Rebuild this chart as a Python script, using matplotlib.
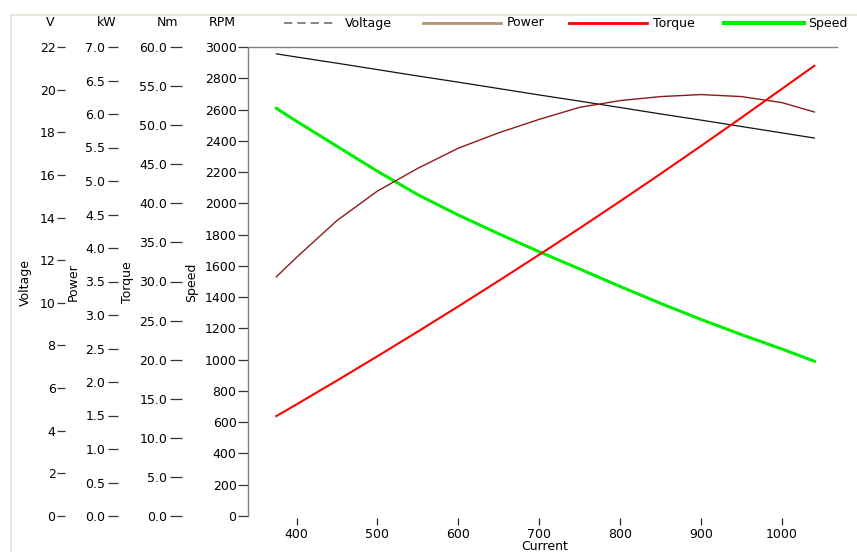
import matplotlib
matplotlib.use("Agg")
import matplotlib.pyplot as plt
from matplotlib.lines import Line2D
from matplotlib.ticker import FormatStrFormatter

# values
current = [375, 400, 450, 500, 550, 600, 650, 700, 750, 800, 850, 900, 950, 1000, 1040]
voltage = [21.68, 21.53, 21.24, 20.94, 20.64, 20.35, 20.05, 19.75, 19.46, 19.16, 18.86, 18.57, 18.27, 17.97, 17.73]
power = [3.57, 3.86, 4.41, 4.85, 5.19, 5.49, 5.72, 5.92, 6.10, 6.20, 6.26, 6.29, 6.26, 6.17, 6.03]
torque = [12.78, 14.28, 17.33, 20.44, 23.60, 26.82, 30.10, 33.43, 36.82, 40.27, 43.78, 47.35, 50.97, 54.65, 57.60]
speed = [2608, 2525, 2365, 2205, 2055, 1925, 1805, 1690, 1580, 1468, 1360, 1257, 1160, 1068, 990]

x_ticks = [400, 500, 600, 700, 800, 900, 1000]
v_ticks = list(range(0, 23, 2))
kw_ticks = [i * 0.5 for i in range(15)]
nm_ticks = [i * 5.0 for i in range(13)]
rpm_ticks = list(range(0, 3001, 200))

W, H = 857, 552
PT = 0.72  # points per pixel at dpi 100
FS = 9

fig = plt.figure(figsize=(W / 100, H / 100), dpi=100)
ax = fig.add_axes([248 / W, 1 - 516 / H, (837 - 248) / W, (516 - 47) / H])

ax.set_xlim(340, 1068)
ax.set_ylim(0, 3000)
for s in ["right", "bottom"]:
    ax.spines[s].set_visible(False)
for s in ["left", "top"]:
    ax.spines[s].set_color("#808080")
    ax.spines[s].set_linewidth(1.0)
ax.spines["bottom"].set_position(("outward", 2 * PT))

ax.set_xticks(x_ticks)
ax.tick_params(axis="x", direction="out", length=7 * PT, width=0.9, color="#222222",
               labelsize=FS, pad=2.5)
ax.set_yticks(rpm_ticks)
ax.tick_params(axis="y", direction="out", length=10 * PT, width=0.9, color="#333333",
               labelsize=FS, pad=1)

ax_v = ax.twinx()
ax_kw = ax.twinx()
ax_nm = ax.twinx()

extra = [
    (ax_v, (0, 22), v_ticks, "%d", (248 - 65) * PT, 8 * PT, 1),
    (ax_kw, (0, 7), kw_ticks, "%.1f", (248 - 118) * PT, 10 * PT, 2),
    (ax_nm, (0, 60), nm_ticks, "%.1f", (248 - 182) * PT, 12 * PT, 2),
]
for a, lim, ticks, fmt, off, ln, pad in extra:
    a.set_ylim(*lim)
    a.yaxis.tick_left()
    a.spines["left"].set_position(("outward", off))
    for s in a.spines.values():
        s.set_visible(False)
    a.set_yticks(ticks)
    a.yaxis.set_major_formatter(FormatStrFormatter(fmt))
    a.tick_params(axis="y", direction="out", length=ln, width=0.9, color="#333333",
                  labelsize=FS, pad=pad)

ax_v.plot(current, voltage, color="#111111", lw=0.9)
ax_kw.plot(current, power, color="#8b1a1a", lw=1.0)
ax_nm.plot(current, torque, color="#ff0000", lw=1.5)
ax.plot(current, speed, color="#00ee00", lw=2.2)
ax_nm.set_zorder(3)

# frame border
fig.add_artist(Line2D([11 / W, 11 / W], [1 - 15 / H, 0], color="#e6e2d3", lw=1.2))
fig.add_artist(Line2D([11 / W, 1], [1 - 15 / H, 1 - 15 / H], color="#e6e2d3", lw=1.2))

# unit headers
for txt, xc in [("V", 50), ("kW", 107), ("Nm", 167), ("RPM", 222)]:
    fig.text(xc / W, 1 - 23 / H, txt, ha="center", va="center", fontsize=FS)

# rotated axis titles
for txt, xc in [("Voltage", 25), ("Power", 73), ("Torque", 128), ("Speed", 192)]:
    fig.text(xc / W, 1 - 282 / H, txt, ha="center", va="center", rotation=90, fontsize=FS)

fig.text(545 / W, 1 - 547 / H, "Current", ha="center", va="center", fontsize=FS)

# legend
legend_items = [
    ("Voltage", "#707070", 1.2, (0, (5, 3)), 284, 335, 345),
    ("Power", "#b39371", 2.0, "-", 423, 501, 507),
    ("Torque", "#ff0000", 2.0, "-", 569, 647, 653),
    ("Speed", "#00ee00", 3.0, "-", 724, 804, 808),
]
ly = 1 - 23 / H
for label, col, lw, ls, x0, x1, xt in legend_items:
    fig.add_artist(Line2D([x0 / W, x1 / W], [ly, ly], color=col, lw=lw, linestyle=ls))
    fig.text(xt / W, ly, label, ha="left", va="center", fontsize=FS)

fig.savefig("out.png", dpi=100)
